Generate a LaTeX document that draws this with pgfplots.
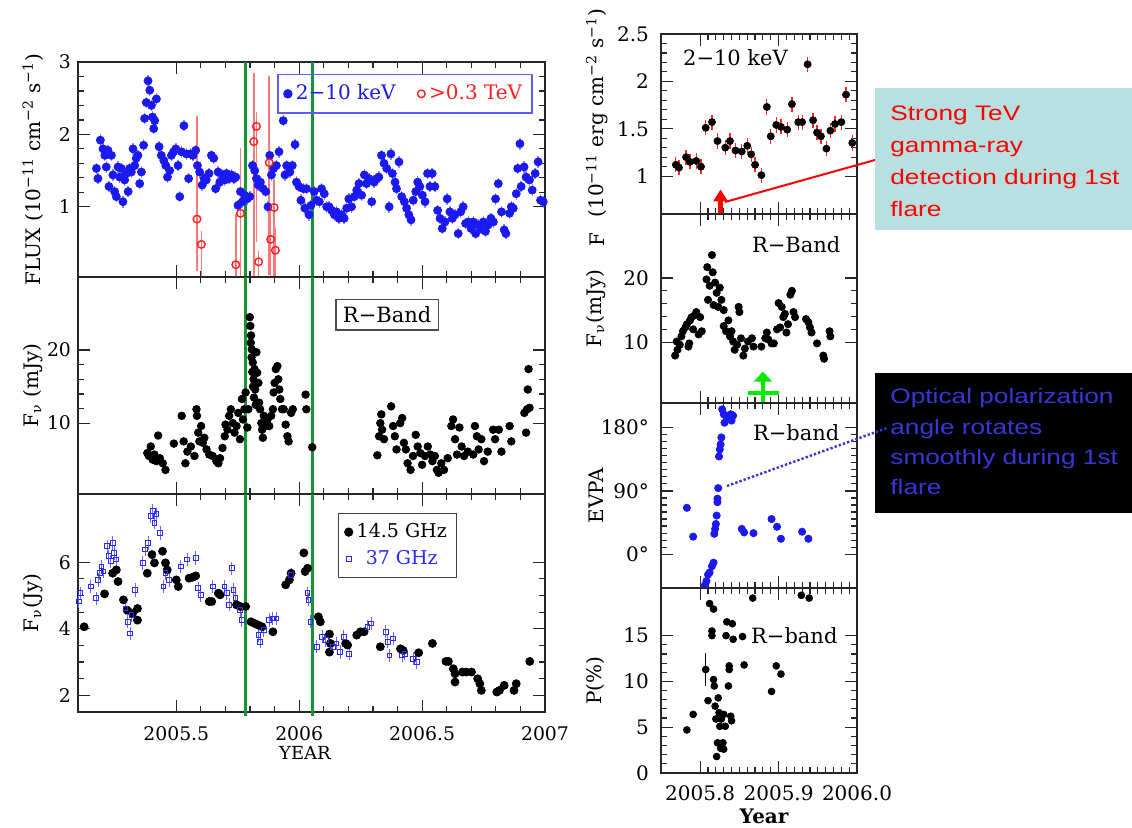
\documentclass[border=0pt]{standalone}
\usepackage{pgfplots}
\pgfplotsset{compat=1.18}
\usepackage{pgfplotstable}
\usepackage{fontspec}
\setmainfont{DejaVu Serif}
\newfontfamily\annfont[FakeStretch=1.25]{Liberation Sans}
\usetikzlibrary{arrows.meta}

\definecolor{xblue}{RGB}{25,25,240}
\definecolor{xblueerr}{RGB}{140,140,255}
\definecolor{tevred}{RGB}{255,30,30}
\definecolor{tevrederr}{RGB}{255,120,120}
\definecolor{vgreen}{RGB}{20,150,50}
\definecolor{tealbox}{RGB}{184,224,224}
\definecolor{anblue}{RGB}{55,55,215}
\definecolor{agreen}{RGB}{0,235,0}
\definecolor{radblue}{RGB}{40,40,255}

% ---- left column: X-ray / TeV ----
\pgfplotstableread{
x y
2005.175 1.53
2005.181 1.39
2005.191 1.92
2005.202 1.80
2005.209 1.71
2005.215 1.55
2005.222 1.78
2005.226 1.28
2005.236 1.71
2005.242 1.44
2005.249 1.21
2005.256 1.14
2005.263 1.55
2005.270 1.41
2005.276 1.53
2005.283 1.07
2005.290 1.37
2005.297 1.46
2005.304 1.21
2005.310 1.53
2005.317 1.48
2005.324 1.80
2005.331 1.57
2005.337 1.67
2005.344 1.71
2005.351 1.32
2005.358 1.48
2005.367 1.85
2005.371 2.22
2005.378 2.44
2005.385 2.74
2005.392 2.61
2005.399 2.40
2005.403 2.24
2005.408 2.08
2005.412 2.19
2005.419 2.49
2005.430 1.83
2005.439 1.71
2005.449 1.64
2005.457 1.57
2005.464 1.41
2005.473 1.50
2005.480 1.71
2005.489 1.76
2005.498 1.80
2005.507 1.57
2005.514 1.14
2005.521 1.76
2005.531 2.12
2005.541 1.73
2005.550 1.39
2005.557 1.73
2005.568 1.71
2005.579 1.78
2005.586 1.57
2005.595 1.48
2005.605 1.30
2005.613 1.39
2005.622 1.37
2005.633 1.46
2005.643 1.71
2005.652 1.67
2005.660 1.25
2005.670 1.48
2005.677 1.34
2005.688 1.44
2005.697 1.37
2005.704 1.46
2005.715 1.39
2005.724 1.44
2005.734 1.39
2005.742 1.41
2005.751 1.02
2005.761 1.21
2005.769 1.07
2005.778 1.16
2005.788 1.11
2005.799 1.14
2005.810 1.57
2005.819 1.50
2005.826 1.39
2005.833 1.30
2005.842 1.34
2005.853 1.25
2005.864 1.21
2005.873 1.00
2005.880 1.71
2005.887 1.44
2005.896 1.53
2005.907 1.57
2005.918 1.76
2005.935 2.19
2005.942 1.44
2005.949 1.57
2005.962 1.48
2005.972 1.57
2005.983 1.86
2005.989 1.34
2005.999 1.28
2006.007 1.09
2006.017 1.25
2006.023 0.98
2006.030 1.25
2006.040 0.89
2006.048 1.02
2006.061 1.21
2006.071 1.09
2006.082 1.07
2006.091 1.25
2006.102 1.18
2006.112 1.00
2006.122 1.00
2006.132 0.95
2006.143 0.89
2006.152 0.93
2006.162 0.84
2006.173 0.89
2006.183 0.84
2006.193 0.98
2006.202 1.11
2006.213 1.00
2006.224 1.14
2006.234 1.23
2006.243 1.32
2006.254 1.16
2006.265 1.44
2006.274 1.32
2006.284 1.39
2006.295 1.07
2006.305 1.34
2006.315 1.39
2006.324 1.41
2006.335 1.71
2006.345 1.60
2006.356 1.53
2006.366 1.00
2006.373 1.73
2006.379 1.46
2006.390 1.34
2006.396 1.25
2006.406 1.62
2006.417 1.14
2006.428 1.07
2006.437 0.98
2006.446 0.89
2006.455 0.82
2006.464 1.09
2006.474 1.21
2006.482 1.34
2006.491 1.28
2006.501 1.16
2006.512 1.07
2006.522 1.46
2006.532 1.28
2006.541 1.46
2006.552 1.28
2006.563 0.95
2006.573 0.84
2006.582 0.70
2006.593 0.79
2006.602 1.11
2006.613 0.93
2006.623 0.84
2006.634 0.89
2006.647 0.63
2006.657 0.93
2006.667 1.00
2006.677 0.77
2006.688 0.79
2006.699 0.70
2006.708 0.79
2006.718 0.63
2006.728 0.75
2006.739 0.70
2006.749 0.79
2006.758 0.66
2006.769 0.75
2006.780 0.84
2006.790 0.79
2006.799 1.11
2006.810 1.32
2006.823 0.93
2006.834 0.68
2006.841 0.63
2006.856 0.91
2006.863 1.00
2006.871 0.98
2006.883 1.18
2006.889 1.53
2006.898 1.87
2006.903 1.28
2006.915 1.55
2006.923 1.41
2006.937 1.37
2006.948 1.23
2006.960 1.46
2006.972 1.62
2006.982 1.09
2006.993 1.07
}\xraylong

\pgfplotstableread{
x y ep em
2005.584 0.83 1.42 0.72
2005.602 0.48 0.18 0.45
2005.742 0.20 0.70 0.17
2005.761 0.91 0.90 0.88
2005.815 1.90 0.95 1.85
2005.826 2.11 0.20 1.60
2005.835 0.24 0.15 0.20
2005.878 1.61 1.20 1.55
2005.884 0.55 0.45 0.50
2005.898 0.99 0.40 0.95
2005.903 0.40 0.30 0.35
}\tev

% ---- left column: R band ----
\pgfplotstableread{
x y
2005.382 5.9
2005.389 5.5
2005.396 6.8
2005.404 5.0
2005.411 5.7
2005.419 4.8
2005.426 8.3
2005.433 5.2
2005.445 4.5
2005.456 3.6
2005.490 7.2
2005.522 11.0
2005.530 7.5
2005.537 4.5
2005.545 6.1
2005.559 6.8
2005.574 5.5
2005.582 11.9
2005.584 11.0
2005.589 8.7
2005.594 7.5
2005.601 9.6
2005.608 7.3
2005.614 8.0
2005.623 6.4
2005.634 5.7
2005.648 5.5
2005.663 4.8
2005.671 4.5
2005.678 5.2
2005.688 6.6
2005.697 8.2
2005.700 9.8
2005.708 9.1
2005.715 11.0
2005.722 11.9
2005.730 10.0
2005.737 8.7
2005.745 9.6
2005.752 11.4
2005.759 7.8
2005.767 13.3
2005.771 10.5
2005.777 11.9
2005.782 14.2
2005.789 9.4
2005.793 11.9
2005.799 24.5
2005.801 23.3
2005.803 21.0
2005.804 22.0
2005.806 19.0
2005.807 20.1
2005.809 17.0
2005.811 18.3
2005.812 15.0
2005.814 16.0
2005.816 13.5
2005.818 17.4
2005.821 14.6
2005.823 12.5
2005.826 19.7
2005.829 16.9
2005.834 15.5
2005.837 12.8
2005.841 11.9
2005.846 10.0
2005.849 9.1
2005.852 8.0
2005.856 11.0
2005.863 9.6
2005.871 10.5
2005.878 9.6
2005.886 11.0
2005.893 11.9
2005.896 14.2
2005.900 15.5
2005.905 17.4
2005.911 17.8
2005.915 16.0
2005.919 14.6
2005.923 13.3
2005.930 11.9
2005.937 11.9
2005.945 9.8
2005.952 8.2
2005.957 7.5
2005.967 11.4
2005.974 11.9
2006.026 13.9
2006.029 11.9
2006.053 6.7
2006.318 5.6
2006.325 8.2
2006.330 10.0
2006.334 11.2
2006.337 9.1
2006.345 7.8
2006.374 12.3
2006.382 9.6
2006.389 8.2
2006.396 6.4
2006.411 10.0
2006.419 10.7
2006.426 7.3
2006.434 6.4
2006.441 4.5
2006.453 3.6
2006.463 5.5
2006.474 8.4
2006.482 6.8
2006.493 5.9
2006.500 4.3
2006.512 5.5
2006.523 6.8
2006.533 5.7
2006.542 4.8
2006.552 5.5
2006.560 3.6
2006.567 3.2
2006.578 4.5
2006.589 3.6
2006.604 5.2
2006.619 9.6
2006.626 10.5
2006.634 7.8
2006.642 5.7
2006.652 9.4
2006.661 6.8
2006.671 5.5
2006.686 6.1
2006.708 5.7
2006.715 9.6
2006.723 8.2
2006.730 6.4
2006.741 7.8
2006.752 4.8
2006.767 6.1
2006.789 9.1
2006.797 7.8
2006.812 9.1
2006.823 6.1
2006.856 9.6
2006.863 7.5
2006.916 11.4
2006.923 8.7
2006.927 11.9
2006.930 14.6
2006.933 17.4
2006.937 12.1
}\roptlong

% ---- left column: radio ----
\pgfplotstableread{
x y
2005.125 4.06
2005.208 5.05
2005.241 5.67
2005.256 5.77
2005.263 5.42
2005.285 4.87
2005.300 4.56
2005.322 4.46
2005.342 4.61
2005.342 4.26
2005.382 5.67
2005.401 6.23
2005.411 5.98
2005.444 6.33
2005.456 5.98
2005.463 5.77
2005.500 5.47
2005.508 5.27
2005.552 5.52
2005.567 5.55
2005.579 5.59
2005.634 4.82
2005.644 4.82
2005.671 5.07
2005.678 5.02
2005.745 4.72
2005.760 4.67
2005.782 4.67
2005.804 4.21
2005.819 4.16
2005.834 4.11
2005.849 4.06
2005.893 3.91
2005.945 5.32
2005.960 5.47
2005.967 5.67
2006.019 6.28
2006.024 5.72
2006.034 5.82
2006.078 4.36
2006.086 4.21
2006.123 3.84
2006.127 3.56
2006.123 3.30
2006.189 3.56
2006.197 3.51
2006.234 3.81
2006.249 3.91
2006.264 3.91
2006.330 3.46
2006.412 3.40
2006.423 3.35
2006.486 3.28
2006.542 3.56
2006.597 3.02
2006.607 3.02
2006.627 2.80
2006.634 2.65
2006.634 2.40
2006.664 2.70
2006.679 2.70
2006.701 2.70
2006.726 2.50
2006.735 2.35
2006.741 2.15
2006.804 2.10
2006.815 2.15
2006.834 2.30
2006.874 2.15
2006.883 2.35
2006.938 3.02
}\radA

\pgfplotstableread{
x y
2005.104 4.82
2005.110 5.07
2005.152 5.27
2005.174 4.92
2005.182 5.47
2005.189 5.67
2005.196 5.87
2005.204 5.72
2005.219 6.48
2005.226 6.18
2005.234 6.03
2005.241 6.58
2005.248 6.28
2005.256 6.08
2005.293 4.61
2005.303 4.21
2005.312 3.86
2005.318 4.41
2005.333 5.17
2005.364 5.98
2005.374 6.38
2005.386 6.58
2005.397 7.39
2005.404 7.54
2005.411 7.19
2005.419 7.44
2005.434 6.88
2005.448 5.27
2005.456 5.67
2005.471 5.47
2005.519 5.87
2005.545 6.08
2005.579 6.13
2005.589 5.22
2005.599 5.02
2005.649 5.27
2005.696 5.27
2005.706 5.07
2005.715 4.72
2005.726 5.82
2005.733 5.17
2005.741 4.92
2005.760 4.56
2005.767 4.26
2005.834 3.81
2005.841 3.61
2005.856 3.96
2005.878 4.26
2005.893 4.31
2005.908 4.31
2005.967 5.62
2006.034 5.07
2006.038 4.87
2006.046 4.21
2006.071 3.46
2006.093 3.76
2006.108 3.66
2006.137 3.46
2006.152 3.56
2006.167 3.30
2006.182 3.76
2006.204 3.25
2006.278 4.06
2006.293 4.16
2006.352 3.91
2006.360 3.61
2006.367 3.20
2006.382 3.71
2006.419 3.20
2006.429 3.25
2006.463 3.10
2006.478 3.00
}\radB

% ---- right column ----
\pgfplotstableread{
x y
2005.769 1.12
2005.773 1.09
2005.782 1.20
2005.787 1.15
2005.795 1.16
2005.801 1.10
2005.807 1.51
2005.815 1.57
2005.822 1.37
2005.832 1.30
2005.838 1.37
2005.845 1.27
2005.853 1.26
2005.860 1.32
2005.865 1.23
2005.870 1.12
2005.878 1.01
2005.885 1.73
2005.890 1.42
2005.897 1.54
2005.903 1.52
2005.911 1.49
2005.917 1.76
2005.925 1.57
2005.930 1.57
2005.937 2.18
2005.944 1.59
2005.949 1.46
2005.954 1.42
2005.961 1.29
2005.966 1.48
2005.972 1.55
2005.980 1.57
2005.986 1.86
2005.994 1.35
}\xrayshort

\pgfplotstableread{
x y
2005.768 7.9
2005.770 10.1
2005.771 8.8
2005.774 9.6
2005.776 10.9
2005.778 11.7
2005.781 12.3
2005.783 12.8
2005.785 9.3
2005.786 9.8
2005.787 13.4
2005.789 13.9
2005.791 12.0
2005.793 14.2
2005.795 14.7
2005.798 11.2
2005.800 13.9
2005.802 11.7
2005.808 19.8
2005.809 21.7
2005.810 16.6
2005.812 18.8
2005.815 23.6
2005.816 20.9
2005.817 15.8
2005.819 19.3
2005.821 17.7
2005.823 15.5
2005.825 18.5
2005.827 16.6
2005.830 15.0
2005.830 12.5
2005.833 11.7
2005.836 13.4
2005.838 10.9
2005.840 11.7
2005.842 10.1
2005.844 8.8
2005.847 9.6
2005.849 15.5
2005.850 14.7
2005.852 10.6
2005.855 7.9
2005.857 9.0
2005.861 10.1
2005.866 10.6
2005.868 9.3
2005.878 9.3
2005.883 10.6
2005.885 11.5
2005.887 10.4
2005.891 9.8
2005.894 9.8
2005.898 12.0
2005.900 16.1
2005.902 12.3
2005.904 15.5
2005.906 13.9
2005.908 14.4
2005.910 11.5
2005.912 12.8
2005.915 17.4
2005.917 18.0
2005.919 14.7
2005.921 13.9
2005.935 13.6
2005.938 13.1
2005.940 12.3
2005.942 11.5
2005.949 9.8
2005.957 7.9
2005.958 7.4
2005.965 11.7
2005.966 10.9
}\roptshort

\pgfplotstableread{
x y
2005.783 66
2005.791 25
2005.806 -44
2005.808 -38
2005.810 -29
2005.812 -26
2005.815 -17
2005.817 -12
2005.818 29
2005.819 36
2005.820 43
2005.821 55
2005.822 74
2005.822 79
2005.823 94
2005.824 139
2005.825 149
2005.826 156
2005.827 166
2005.828 206
2005.830 199
2005.831 187
2005.833 197
2005.836 194
2005.839 199
2005.840 190
2005.842 197
2005.853 36
2005.856 31
2005.868 30
2005.891 50
2005.898 39
2005.903 22
2005.930 32
2005.938 22
}\evpa

\pgfplotstableread{
x y e
2005.783 4.7 0.2
2005.791 6.4 0.2
2005.807 11.3 1.8
2005.810 7.9 0.2
2005.812 18.5 0.2
2005.815 15.0 0.2
2005.815 15.5 0.2
2005.817 17.9 0.2
2005.817 10.2 0.2
2005.818 9.5 0.2
2005.819 7.3 0.2
2005.820 5.9 0.2
2005.821 1.8 0.2
2005.822 3.3 0.2
2005.823 8.2 0.2
2005.824 6.6 0.2
2005.825 5.1 0.2
2005.826 2.7 0.2
2005.827 5.9 0.2
2005.829 3.3 0.2
2005.830 6.4 0.2
2005.830 2.6 0.2
2005.832 5.1 0.2
2005.833 15.0 0.2
2005.834 16.5 0.2
2005.836 9.5 0.2
2005.837 11.3 0.2
2005.837 11.7 0.2
2005.839 6.2 0.2
2005.840 5.7 0.2
2005.841 16.3 0.2
2005.842 14.6 0.2
2005.854 14.9 0.2
2005.856 11.8 0.2
2005.867 19.1 0.2
2005.891 8.9 0.2
2005.897 11.7 0.2
2005.903 10.8 0.2
2005.929 19.4 0.2
2005.939 19.1 0.2
}\pol

\tikzset{vline/.style={vgreen, line width=1.5pt}}

\pgfplotsset{
  panel/.style={
    scale only axis, anchor=south west,
    axis line style={line width=0.9pt, black!85},
    tick style={black!85, line width=0.6pt},
    tick align=inside,
    /pgf/number format/assume math mode=true,
    major tick length=6pt, minor tick length=3pt,
    label style={font=\fontsize{10}{11}\selectfont},
  },
  leftpanel/.style={panel,
    width=233.5pt, xmin=2005.1, xmax=2007,
    xtick={2005.5,2006,2006.5,2007}, minor x tick num=4,
    tick label style={font=\fontsize{9.4}{10}\selectfont},
    xticklabel style={yshift=-3.5pt},
    ylabel style={at={(axis description cs:-0.0964,0.5)}, anchor=center},
  },
  rightpanel/.style={panel,
    width=98pt, xmin=2005.75, xmax=2006.0,
    xtick={2005.8,2005.9,2006.0}, minor x tick num=9,
    tick label style={font=\fontsize{10}{11}\selectfont},
    xticklabel style={yshift=-3pt},
    yticklabel style={xshift=-2.5pt},
    ylabel style={at={(axis description cs:-0.332,0.5)}, anchor=center},
  },
}

\begin{document}
\begin{tikzpicture}
\useasboundingbox (0,0) rectangle (566pt,413.5pt);

% ===== left: X-ray and TeV =====
\begin{axis}[leftpanel, at={(39pt,275pt)}, height=107.5pt,
  ymin=0.03, ymax=3, ytick={1,2,3}, minor y tick num=4, xticklabels={},
  ylabel={FLUX (10\textsuperscript{−11} cm\textsuperscript{−2} s\textsuperscript{−1})},
  legend columns=2,
  legend style={at={(0.974,0.944)}, anchor=north east, draw=xblue!70, line width=0.7pt,
    fill=none, font=\fontsize{10}{11}\selectfont, inner xsep=3pt, inner ysep=3pt,
    /tikz/every even column/.append style={column sep=9pt}},
  legend image code/.code={\draw[#1] plot coordinates {(0.15cm,0cm)};}]
\addplot[only marks, mark=*, mark size=2pt, color=xblue,
  error bars/.cd, y dir=both, y fixed=0.08,
  error bar style={xblueerr, line width=0.7pt}, error mark=none] table {\xraylong};
\addlegendentry[text=xblue]{2−10 keV}
\addplot[only marks, mark=o, mark size=1.9pt, color=tevred, mark options={line width=0.7pt},
  error bars/.cd, y dir=both, y explicit,
  error bar style={tevrederr, line width=0.8pt}, error mark=none]
  table[x=x, y=y, y error plus=ep, y error minus=em] {\tev};
\addlegendentry[text=tevred]{>0.3 TeV}
\draw[vline] (axis cs:2005.783,0.03) -- (axis cs:2005.783,3);
\draw[vline] (axis cs:2006.056,0.03) -- (axis cs:2006.056,3);
\end{axis}

% ===== left: R band =====
\begin{axis}[leftpanel, at={(39pt,166.5pt)}, height=108.5pt,
  ymin=0.3, ymax=30, ytick={10,20}, minor y tick num=4, xticklabels={},
  ylabel={F\textsubscript{ν} (mJy)}]
\addplot[only marks, mark=*, mark size=1.9pt, color=black] table {\roptlong};
\node[draw=black!70, line width=0.6pt, font=\fontsize{10.5}{12}\selectfont, inner sep=3.5pt]
  at (axis description cs:0.662,0.825) {R−Band};
\draw[vline] (axis cs:2005.783,0.3) -- (axis cs:2005.783,30);
\draw[vline] (axis cs:2006.056,0.3) -- (axis cs:2006.056,30);
\end{axis}

% ===== left: radio =====
\begin{axis}[leftpanel, at={(39pt,57.5pt)}, height=109pt, clip=false,
  ymin=1.5, ymax=8.05, ytick={2,4,6}, minor y tick num=3,
  xticklabels={2005.5,2006,2006.5,2007},
  xlabel={YEAR}, xlabel style={at={(axis description cs:0.486,-0.188)}, anchor=center,
    font=\fontsize{9}{10}\selectfont},
  ylabel={F\textsubscript{ν}(Jy)},
  legend style={at={(0.557,0.913)}, anchor=north west, draw=black!75, line width=0.6pt,
    font=\fontsize{9.5}{11}\selectfont, row sep=1pt, inner sep=3pt},
  legend image code/.code={\draw[#1] plot coordinates {(0.12cm,0cm)};}]
\addplot[only marks, mark=*, mark size=2pt, color=black] table {\radA};
\addlegendentry{14.5 GHz}
\addplot[only marks, mark=square, mark size=1.2pt, color=radblue, mark options={line width=0.5pt},
  error bars/.cd, y dir=both, y fixed=0.2,
  error bar style={radblue!70, line width=0.5pt}, error mark=none] table {\radB};
\addlegendentry[text=radblue]{37 GHz}
\draw[vline] (axis cs:2005.783,1.38) -- (axis cs:2005.783,8.05);
\draw[vline] (axis cs:2006.056,1.38) -- (axis cs:2006.056,8.05);
\end{axis}

% ===== right: X-ray =====
\begin{axis}[rightpanel, at={(330.5pt,306.5pt)}, height=90pt,
  ymin=0.6, ymax=2.5, ytick={1,1.5,2,2.5}, minor y tick num=4, xticklabels={}]
\addplot[only marks, mark=*, mark size=1.75pt, color=black,
  error bars/.cd, y dir=both, y fixed=0.08,
  error bar style={red!85, line width=0.6pt}, error mark=none] table {\xrayshort};
\node[font=\fontsize{10.5}{12}\selectfont] at (axis description cs:0.38,0.87) {2−10 keV};
\draw[red, line width=2.2pt, -{Triangle[length=6pt,width=7pt]}]
  (axis cs:2005.826,0.6) -- (axis cs:2005.826,0.86);
\end{axis}

% ===== right: R band =====
\begin{axis}[rightpanel, at={(330.5pt,212pt)}, height=94.5pt,
  ymin=0.5, ymax=30, ytick={10,20}, minor y tick num=4, xticklabels={},
  ylabel={F\textsubscript{ν}(mJy)}]
\addplot[only marks, mark=*, mark size=1.8pt, color=black] table {\roptshort};
\node[font=\fontsize{10.5}{12}\selectfont] at (axis description cs:0.69,0.84) {R−Band};
\draw[agreen, line width=2.2pt, -{Triangle[length=5pt,width=9pt]}]
  (axis cs:2005.880,0.5) -- (axis cs:2005.880,5.4);
\draw[agreen, line width=2.2pt] (axis cs:2005.861,2.1) -- (axis cs:2005.900,2.1);
\end{axis}

% ===== right: EVPA =====
\begin{axis}[rightpanel, at={(330.5pt,119.5pt)}, height=92.5pt,
  ymin=-48, ymax=215, ytick={0,90,180}, yticklabels={0°,90°,180°}, minor y tick num=8,
  xticklabels={}, ylabel={EVPA}]
\addplot[only marks, mark=*, mark size=1.8pt, color=xblue] table {\evpa};
\node[font=\fontsize{10.5}{12}\selectfont] at (axis description cs:0.69,0.84) {R−band};
\end{axis}

% ===== right: polarisation degree =====
\begin{axis}[rightpanel, at={(330.5pt,27pt)}, height=92.5pt,
  ymin=0, ymax=20.2, ytick={0,5,10,15}, minor y tick num=4,
  xticklabels={2005.8,2005.9,2006.0},
  xlabel={\bfseries Year}, xlabel style={at={(axis description cs:0.526,-0.232)}, anchor=center,
    font=\fontsize{10}{11}\selectfont},
  ylabel={P(\%)}]
\addplot[only marks, mark=*, mark size=1.7pt, color=black,
  error bars/.cd, y dir=both, y explicit,
  error bar style={black, line width=0.6pt}, error mark=none]
  table[x=x, y=y, y error=e] {\pol};
\node[font=\fontsize{10.5}{12}\selectfont] at (axis description cs:0.68,0.74) {R−band};
\end{axis}

% right column: label of the top panel
\node[rotate=90, font=\fontsize{10}{11}\selectfont] at (298.5pt,357pt)
  {(10\textsuperscript{−11} erg cm\textsuperscript{−2} s\textsuperscript{−1})};
\node[rotate=90, font=\fontsize{10}{11}\selectfont] at (298.5pt,293.5pt) {F};

% annotations
\fill[tealbox] (437.5pt,298.5pt) rectangle (566pt,369.5pt);
\node[anchor=north west, align=left, inner sep=0pt, text=red,
  font=\annfont\fontsize{10.5}{16}\selectfont] at (445pt,361pt)
  {Strong TeV\\gamma-ray\\detection during 1st\\flare};
\draw[red, line width=1pt] (362.5pt,312.5pt) -- (437.5pt,333.5pt);

\fill[black] (437.5pt,157pt) rectangle (566pt,227pt);
\node[anchor=north west, align=left, inner sep=0pt, text=anblue,
  font=\annfont\fontsize{10.5}{15.2}\selectfont] at (445pt,219.5pt)
  {Optical polarization\\angle rotates\\smoothly during 1st\\flare};
\draw[anblue, line width=1.2pt, densely dotted] (363.5pt,170.5pt) -- (443.5pt,199.5pt);
\end{tikzpicture}
\end{document}
